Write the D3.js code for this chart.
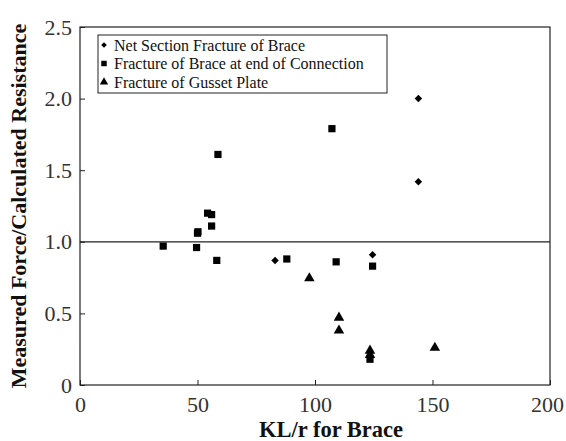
<!DOCTYPE html>
<html lang="en">
<head>
<meta charset="utf-8">
<title>Measured Force / Calculated Resistance vs KL/r</title>
<script src="https://d3js.org/d3.v7.min.js"></script>
<style>
    body { margin: 0; background: #fff; }
    .chart text { font-family: "Liberation Serif", "DejaVu Serif", serif; }
    .tick-label { font-size: 22px; fill: #333; }
    .axis-title { font-size: 22px; font-weight: bold; fill: #111; }
    .legend-text { font-size: 16px; fill: #111; }
</style>
</head>
<body>
<svg class="chart"></svg>
<script>
    // data
    var netX = [144, 144, 83, 124.5];
    var netY = [2.00, 1.42, 0.87, 0.91];

    var braceX = [35.4, 50, 50.2, 49.6, 54.3, 56, 56, 58.2, 58.7, 88, 107.2, 109, 124.5, 123.4];
    var braceY = [0.97, 1.06, 1.07, 0.96, 1.20, 1.19, 1.11, 0.87, 1.61, 0.88, 1.79, 0.86, 0.83, 0.18];

    var gussetX = [97.6, 110.2, 110.2, 123.4, 123.4, 151];
    var gussetY = [0.745, 0.47, 0.38, 0.24, 0.21, 0.26];

    var seriesNames = ["Net Section Fracture of Brace",
                       "Fracture of Brace at end of Connection",
                       "Fracture of Gusset Plate"];
    var xTicks = [0, 50, 100, 150, 200];
    var yTicks = [0, 0.5, 1.0, 1.5, 2.0, 2.5];
    var yTickLabels = ["0", "0.5", "1.0", "1.5", "2.0", "2.5"];
    var refLine = 1.0;

    var width = 566, height = 441;
    var margin = {top: 27, right: 16, bottom: 56, left: 80};

    var svg = d3.select(".chart")
        .attr("width", width)
        .attr("height", height);

    svg.append("rect").attr("width", width).attr("height", height).attr("fill", "#fff");

    var x = d3.scaleLinear().domain([0, 200]).range([margin.left, width - margin.right]);
    var y = d3.scaleLinear().domain([0, 2.5]).range([height - margin.bottom, margin.top]);

    // frame
    svg.append("rect")
        .attr("x", x(0)).attr("y", y(2.5))
        .attr("width", x(200) - x(0)).attr("height", y(0) - y(2.5))
        .attr("fill", "none").attr("stroke", "#222").attr("stroke-width", 1.2);

    // axes, ticks pointing inward
    var xAxis = d3.axisBottom(x).tickValues(xTicks).tickSize(-5).tickPadding(10)
        .tickFormat(d3.format("d"));
    var gx = svg.append("g").attr("transform", "translate(0," + y(0) + ")").call(xAxis);
    gx.select(".domain").remove();
    gx.selectAll("line").attr("stroke", "#222");
    gx.selectAll("text").attr("class", "tick-label").attr("dy", "0.75em")
        .attr("dx", function (d) { return d === 200 ? -3 : 0; });

    var yAxis = d3.axisLeft(y).tickValues(yTicks).tickSize(-5).tickPadding(8)
        .tickFormat(function (d, i) { return yTickLabels[i]; });
    var gy = svg.append("g").attr("transform", "translate(" + x(0) + ",0)").call(yAxis);
    gy.select(".domain").remove();
    gy.selectAll("line").attr("stroke", "#222");
    gy.selectAll("text").attr("class", "tick-label");

    svg.selectAll(".tick-label").attr("font-size", null).attr("font-family", null).attr("fill", null);

    // reference line at 1.0
    svg.append("line")
        .attr("x1", x(0)).attr("x2", x(200))
        .attr("y1", y(refLine)).attr("y2", y(refLine))
        .attr("stroke", "#222").attr("stroke-width", 1.2);

    // markers (diamond = square turned 45 degrees)
    var symDiamond = d3.symbol().type(d3.symbolSquare).size(28);
    var symSquare = d3.symbol().type(d3.symbolSquare).size(52);
    var symTriangle = d3.symbol().type(d3.symbolTriangle).size(48);

    function plot(xs, ys, sym, rot) {
        svg.append("g").selectAll("path")
            .data(d3.zip(xs, ys))
            .enter().append("path")
            .attr("d", sym)
            .attr("fill", "#000")
            .attr("transform", function (d) {
                return "translate(" + x(d[0]) + "," + y(d[1]) + ") rotate(" + (rot || 0) + ")";
            });
    }
    plot(netX, netY, symDiamond, 45);
    plot(braceX, braceY, symSquare);
    plot(gussetX, gussetY, symTriangle);

    // legend
    var legend = svg.append("g").attr("transform", "translate(98,35)");
    legend.append("rect")
        .attr("width", 289).attr("height", 58)
        .attr("fill", "#fff").attr("stroke", "#222").attr("stroke-width", 1);
    var legSyms = [d3.symbol().type(d3.symbolSquare).size(16),
                   d3.symbol().type(d3.symbolSquare).size(30),
                   d3.symbol().type(d3.symbolTriangle).size(30)];
    seriesNames.forEach(function (name, i) {
        var row = legend.append("g").attr("transform", "translate(0," + (10 + i * 18.5) + ")");
        row.append("path").attr("d", legSyms[i]).attr("fill", "#000")
            .attr("transform", "translate(6,0) rotate(" + (i === 0 ? 45 : 0) + ")");
        row.append("text").attr("class", "legend-text")
            .attr("x", 16).attr("dy", "0.35em").text(name);
    });

    // axis titles
    svg.append("text").attr("class", "axis-title")
        .attr("text-anchor", "middle")
        .style("font-size", "22.5px")
        .attr("x", 331).attr("y", 437)
        .text("KL/r for Brace");

    svg.append("text").attr("class", "axis-title")
        .attr("text-anchor", "middle")
        .attr("transform", "translate(26," + (y(0) + y(2.5)) / 2 + ") rotate(-90)")
        .text("Measured Force/Calculated Resistance");
</script>
</body>
</html>
